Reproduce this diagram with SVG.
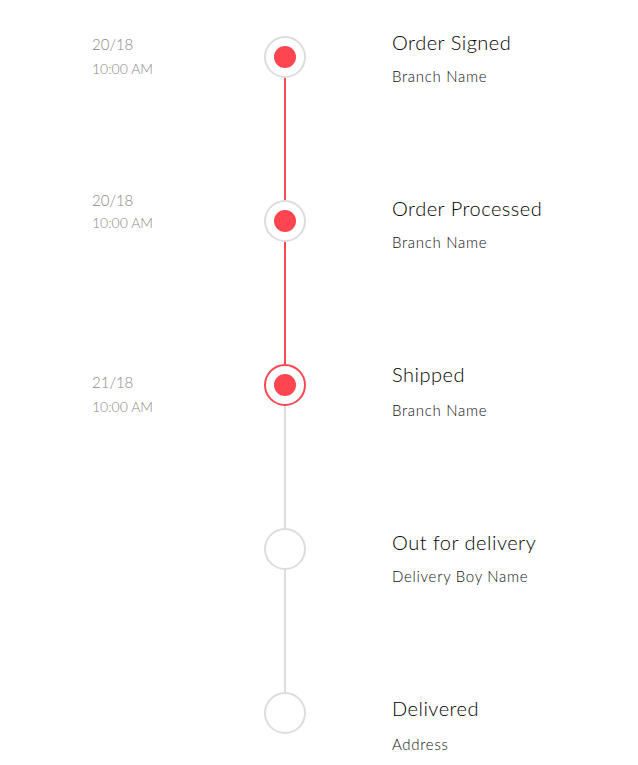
<svg xmlns="http://www.w3.org/2000/svg" width="638" height="765" viewBox="0 0 638 765">
<style>
.t{font-family:Lato,"Open Sans",sans-serif;font-size:20px;font-weight:300;letter-spacing:0.5px;fill:#000}
.s{font-family:Lato,"Open Sans",sans-serif;font-size:15px;font-weight:300;letter-spacing:0.7px;fill:#111}
.d{font-family:Lato,"Open Sans",sans-serif;font-size:15px;font-weight:300;fill:#888}
.h{font-family:Lato,"Open Sans",sans-serif;font-size:14px;font-weight:300;fill:#888}
.ring{fill:#fff;stroke:#ddd;stroke-width:2}
.ring.on{stroke:#ff4550}
.dot{fill:#ff4550}
</style>
<rect width="638" height="765" fill="#fff"/>
<g id="connectors">
<line x1="285" y1="77" x2="285" y2="365" stroke="#ff4550" stroke-width="2"/>
<line x1="285" y1="405" x2="285" y2="693" stroke="#ddd" stroke-width="2"/>
</g>
<g id="n1">
<circle class="ring" cx="285" cy="57" r="20"/><circle class="dot" cx="285" cy="57" r="11"/>
<text class="d" x="92" y="50">20/18</text><text class="h" x="92" y="74">10:00 AM</text>
<text class="t" x="392" y="50">Order Signed</text><text class="s" x="392" y="82">Branch Name</text>
</g>
<g id="n2">
<circle class="ring" cx="285" cy="221" r="20"/><circle class="dot" cx="285" cy="221" r="11"/>
<text class="d" x="92" y="206">20/18</text><text class="h" x="92" y="228">10:00 AM</text>
<text class="t" x="392" y="216">Order Processed</text><text class="s" x="392" y="248">Branch Name</text>
</g>
<g id="n3">
<circle class="ring on" cx="285" cy="385" r="20"/><circle class="dot" cx="285" cy="385" r="11"/>
<text class="d" x="92" y="388">21/18</text><text class="h" x="92" y="412">10:00 AM</text>
<text class="t" x="392" y="382">Shipped</text><text class="s" x="392" y="416">Branch Name</text>
</g>
<g id="n4">
<circle class="ring" cx="285" cy="549" r="20"/>
<text class="t" x="392" y="550">Out for delivery</text><text class="s" x="392" y="582">Delivery Boy Name</text>
</g>
<g id="n5">
<circle class="ring" cx="285" cy="713" r="20"/>
<text class="t" x="392" y="716">Delivered</text><text class="s" x="392" y="750">Address</text>
</g>
</svg>
